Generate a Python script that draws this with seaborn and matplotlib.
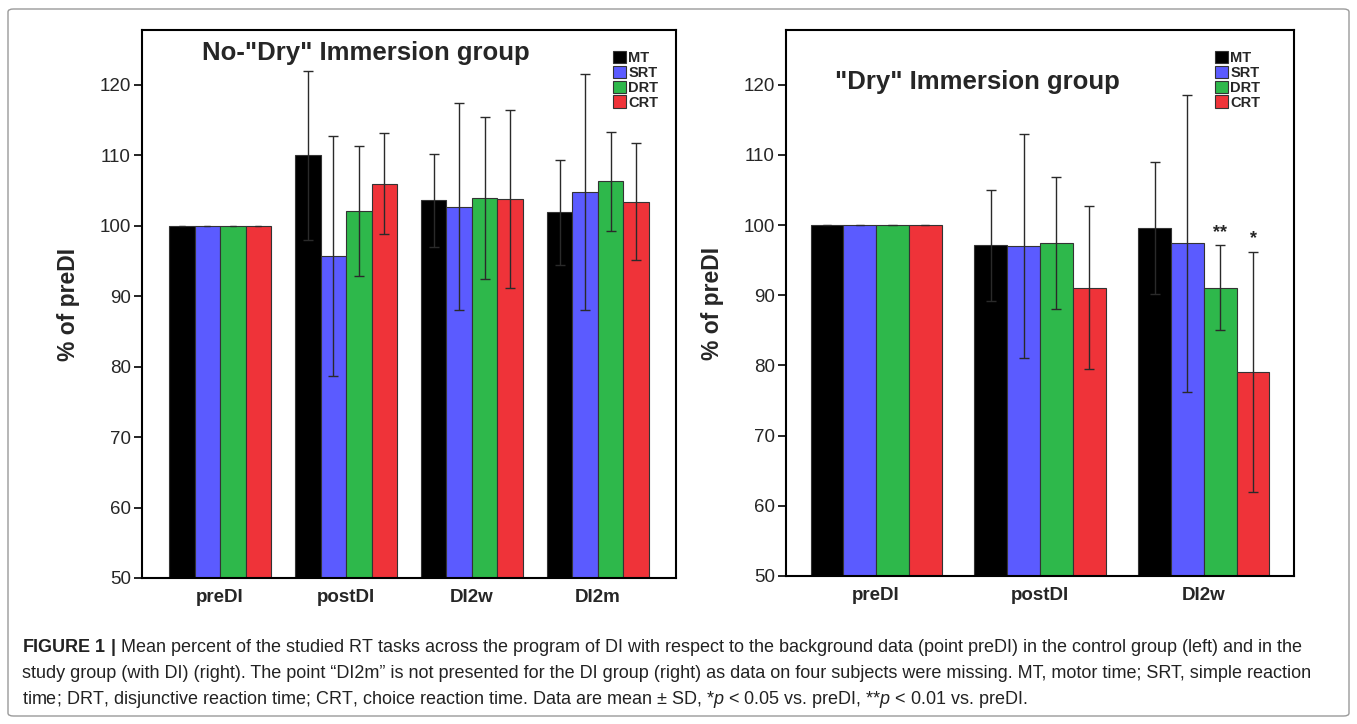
import matplotlib
matplotlib.use("Agg")
import matplotlib.pyplot as plt
import seaborn as sns
import pandas as pd
from matplotlib.patches import FancyBboxPatch

# values
tasks = ["MT", "SRT", "DRT", "CRT"]
colors = ["#000000", "#5b5bff", "#2eb84b", "#ef3339"]

ctrl_points = ["preDI", "postDI", "DI2w", "DI2m"]
ctrl_mt = [100, 110.0, 103.6, 101.9]
ctrl_srt = [100, 95.7, 102.7, 104.8]
ctrl_drt = [100, 102.1, 104.0, 106.3]
ctrl_crt = [100, 106.0, 103.8, 103.4]
ctrl_sd_mt = [0, 12.0, 6.6, 7.5]
ctrl_sd_srt = [0, 17.0, 14.7, 16.8]
ctrl_sd_drt = [0, 9.2, 11.5, 7.0]
ctrl_sd_crt = [0, 7.2, 12.6, 8.3]

di_points = ["preDI", "postDI", "DI2w"]
di_mt = [100, 97.1, 99.6]
di_srt = [100, 97.0, 97.4]
di_drt = [100, 97.4, 91.1]
di_crt = [100, 91.1, 79.1]
di_sd_mt = [0, 7.9, 9.4]
di_sd_srt = [0, 16.0, 21.2]
di_sd_drt = [0, 9.4, 6.0]
di_sd_crt = [0, 11.6, 17.1]
di_marks = ["", "", "**", "*"]  # significance over DI2w bars

caption = [
    r"$\bf{FIGURE\ 1\ |}$ Mean percent of the studied RT tasks across the program of DI with respect to the background data (point preDI) in the control group (left) and in the",
    "study group (with DI) (right). The point \u201cDI2m\u201d is not presented for the DI group (right) as data on four subjects were missing. MT, motor time; SRT, simple reaction",
    r"time; DRT, disjunctive reaction time; CRT, choice reaction time. Data are mean $\pm$ SD, *$p$ < 0.05 vs. preDI, **$p$ < 0.01 vs. preDI.",
]

sns.set_style("white")
plt.rcParams["font.family"] = ["Liberation Sans", "DejaVu Sans"]
plt.rcParams["mathtext.fontset"] = "custom"
plt.rcParams["mathtext.rm"] = "Liberation Sans"
plt.rcParams["mathtext.it"] = "Liberation Sans:italic"
plt.rcParams["mathtext.bf"] = "Liberation Sans:bold"


def make_df(points, means, sds):
    rows = []
    for t, m, s in zip(tasks, means, sds):
        for p, mv, sv in zip(points, m, s):
            rows.append({"point": p, "task": t, "value": mv, "sd": sv})
    return pd.DataFrame(rows)


def draw_panel(ax, df, points, title, title_xy, legend_xy, width, pad):
    sns.barplot(data=df, x="point", y="value", hue="task", order=points,
                hue_order=tasks, palette=colors, width=width, errorbar=None,
                edgecolor="#333333", linewidth=0.8, saturation=1, ax=ax)
    # seaborn adds bars task by task, so patches follow df row order
    bars = [p for p in ax.patches if p.get_height() > 0][: len(df)]
    for bar, (_, row) in zip(bars, df.iterrows()):
        xc = bar.get_x() + bar.get_width() / 2
        if row["sd"] > 0:
            ax.errorbar(xc, row["value"], yerr=row["sd"], fmt="none",
                        ecolor="#2a2a2a", elinewidth=1.0, capsize=3.5,
                        capthick=1.0, zorder=5)
        else:
            ax.plot([xc - 0.025, xc + 0.025], [100, 100], color="#2a2a2a", lw=1, zorder=5)
    ax.set_ylim(50, 127.8)
    ax.set_xlim(-pad, len(points) - 1 + pad)
    ax.set_yticks(range(50, 121, 10))
    ax.tick_params(axis="y", direction="out", length=6, width=1.2, labelsize=13.5,
                   left=True, color="black", pad=2)
    ax.tick_params(axis="x", length=0, labelsize=13.5, pad=8)
    for lab in ax.get_xticklabels():
        lab.set_fontweight("bold")
    ax.set_xlabel("")
    ax.set_ylabel("% of preDI", fontsize=16.5, fontweight="bold", labelpad=14)
    for sp in ax.spines.values():
        sp.set_visible(True)
        sp.set_color("black")
        sp.set_linewidth(1.5)
    ax.text(title_xy[0], title_xy[1], title, transform=ax.transAxes,
            fontsize=18.5, fontweight="bold", ha="center", va="center")
    h, l = ax.get_legend_handles_labels()
    ax.legend(h, l, loc="upper left", bbox_to_anchor=legend_xy,
              bbox_transform=ax.figure.transFigure, frameon=False,
              prop={"size": 10.5, "weight": "bold"}, handlelength=0.9,
              handleheight=0.9, labelspacing=0.05, handletextpad=0.15,
              borderpad=0, borderaxespad=0)


fig = plt.figure(figsize=(13.57, 7.24), dpi=100)
W, H = 1357, 724

# outer frame around the whole figure
fig.patches.append(FancyBboxPatch((8 / W, 8 / H), 1341 / W, 707 / H,
                                  boxstyle="round,pad=0,rounding_size=0.004",
                                  transform=fig.transFigure, fill=False,
                                  edgecolor="#9a9a9a", linewidth=1.0))

ax1 = fig.add_axes([142 / W, 1 - 578 / H, 534 / W, 548 / H])
ax2 = fig.add_axes([786 / W, 1 - 576 / H, 508 / W, 546 / H])

df1 = make_df(ctrl_points, [ctrl_mt, ctrl_srt, ctrl_drt, ctrl_crt],
              [ctrl_sd_mt, ctrl_sd_srt, ctrl_sd_drt, ctrl_sd_crt])
df2 = make_df(di_points, [di_mt, di_srt, di_drt, di_crt],
              [di_sd_mt, di_sd_srt, di_sd_drt, di_sd_crt])

draw_panel(ax1, df1, ctrl_points, 'No-"Dry" Immersion group', (0.42, 0.958),
           (613 / W, 1 - 51 / H), 0.81, 0.62)
draw_panel(ax2, df2, di_points, '"Dry" Immersion group', (0.376, 0.905),
           (1215 / W, 1 - 51 / H), 0.80, 0.55)

# significance marks over the DI2w bars
di_ends = [m + s for m, s in zip([di_mt[2], di_srt[2], di_drt[2], di_crt[2]],
                                 [di_sd_mt[2], di_sd_srt[2], di_sd_drt[2], di_sd_crt[2]])]
for i, mark in enumerate(di_marks):
    if mark:
        xc = 2 + (i - 1.5) * 0.2
        ax2.text(xc, di_ends[i] + 0.6, mark, ha="center", va="bottom",
                 fontsize=13, fontweight="bold")

for i, line in enumerate(caption):
    fig.text(22 / W, 1 - (648 + 26 * i) / H, line, fontsize=13,
             ha="left", va="center", color="#222222")

fig.savefig("out.png", dpi=100)
